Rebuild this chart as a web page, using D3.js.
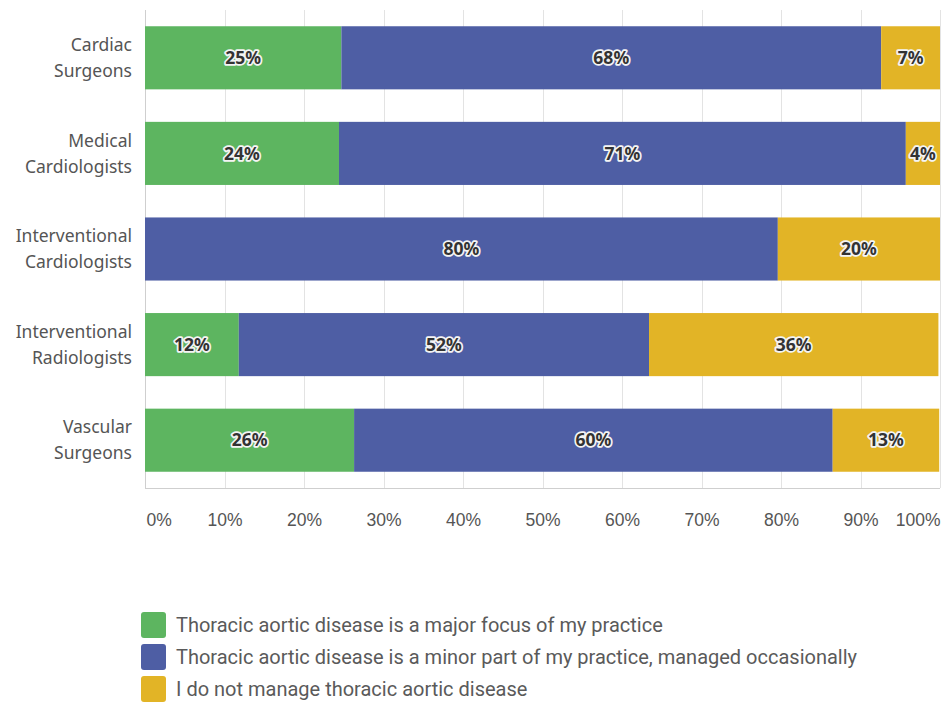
<!DOCTYPE html>
<meta charset="utf-8">
<style>
  body { margin: 0; background: white; }
  svg { background-color: white; font-family: "Noto Sans", sans-serif; }
  .grid line { stroke: #e3e3e3; shape-rendering: crispEdges; }
  .cat text { fill: #555; font-size: 17.5px; }
  .x-axis text { fill: #555; font-size: 17.5px; }
  .seg-label {
    font-size: 17.5px; font-weight: bold; fill: #333;
    stroke: #f4f4f4; stroke-width: 3.5px; paint-order: stroke; stroke-linejoin: round;
  }
  .legend text { fill: #5a5a5a; font-size: 20px; font-family: Roboto, sans-serif; }
</style>
<body>
<div id="chart"></div>
<script src="https://d3js.org/d3.v7.min.js"></script>
<script>
  // categories (two-line labels)
  var categories = [
    ["Cardiac", "Surgeons"],
    ["Medical", "Cardiologists"],
    ["Interventional", "Cardiologists"],
    ["Interventional", "Radiologists"],
    ["Vascular", "Surgeons"]
  ];
  // series values, in percent
  var majorFocus = [24.7, 24.4, 0, 11.8, 26.3];
  var minorPart  = [67.9, 71.3, 79.6, 51.6, 60.2];
  var notManage  = [7.4, 4.3, 20.4, 36.4, 13.4];
  // labels shown on segments
  var majorLabels = ["25%", "24%", "", "12%", "26%"];
  var minorLabels = ["68%", "71%", "80%", "52%", "60%"];
  var notLabels   = ["7%", "4%", "20%", "36%", "13%"];

  var seriesNames = [
    "Thoracic aortic disease is a major focus of my practice",
    "Thoracic aortic disease is a minor part of my practice, managed occasionally",
    "I do not manage thoracic aortic disease"
  ];
  var colors = ["#5db560", "#4e5ea4", "#e2b426"];
  var xTicks = [0, 10, 20, 30, 40, 50, 60, 70, 80, 90, 100];

  var W = 941, H = 703;
  var margin = {top: 10, left: 145, right: 1, bottom: 215};
  var width = W - margin.left - margin.right,
      height = H - margin.top - margin.bottom;

  var svg = d3.select("#chart").append("svg")
      .attr("width", W).attr("height", H);
  var g = svg.append("g").attr("transform", "translate(" + margin.left + "," + margin.top + ")");

  var x = d3.scaleLinear().domain([0, 100]).range([0, width]);
  var y = d3.scaleBand().domain(d3.range(categories.length)).range([0, height])
      .paddingInner(0.34).paddingOuter(0.17);

  // gridlines
  g.append("g").attr("class", "grid")
    .selectAll("line").data(xTicks).enter().append("line")
      .attr("x1", function(d){ return Math.round(x(d)) + 0.5; })
      .attr("x2", function(d){ return Math.round(x(d)) + 0.5; })
      .attr("y1", 0).attr("y2", height)
      .style("stroke", function(d){ return d === 0 ? "#cfcfcf" : "#e3e3e3"; });
  g.append("line")
    .attr("x1", 0).attr("x2", width).attr("y1", height + 0.5).attr("y2", height + 0.5)
    .attr("stroke", "#cfcfcf").style("shape-rendering", "crispEdges");

  // stacked rows
  var rows = categories.map(function(c, i){
    var vals = [majorFocus[i], minorPart[i], notManage[i]];
    var labs = [majorLabels[i], minorLabels[i], notLabels[i]];
    var x0 = 0;
    return vals.map(function(v, k){
      var s = {row: i, k: k, x0: x0, x1: x0 + v, label: labs[k]};
      x0 += v;
      return s;
    });
  });
  var segs = [].concat.apply([], rows).filter(function(d){ return d.x1 > d.x0; });

  g.selectAll("rect.seg").data(segs).enter().append("rect")
    .attr("class", "seg")
    .attr("x", function(d){ return x(d.x0); })
    .attr("width", function(d){ return x(d.x1) - x(d.x0); })
    .attr("y", function(d){ return y(d.row); })
    .attr("height", y.bandwidth())
    .attr("fill", function(d){ return colors[d.k]; });

  g.selectAll("text.seg-label").data(segs.filter(function(d){ return d.label; })).enter().append("text")
    .attr("class", "seg-label")
    .attr("x", function(d){ return (x(d.x0) + x(d.x1)) / 2; })
    .attr("y", function(d){ return y(d.row) + y.bandwidth() / 2; })
    .attr("text-anchor", "middle").attr("dy", "0.35em")
    .text(function(d){ return d.label; });

  // category labels
  var cat = g.append("g").attr("class", "cat");
  categories.forEach(function(c, i){
    var cy = y(i) + y.bandwidth() / 2;
    var t = cat.append("text").attr("text-anchor", "end");
    t.append("tspan").attr("x", -13).attr("y", cy - 13).attr("dy", "0.35em").text(c[0]);
    t.append("tspan").attr("x", -13).attr("y", cy + 13).attr("dy", "0.35em").text(c[1]);
  });

  // x axis labels
  var xa = g.append("g").attr("class", "x-axis")
    .attr("transform", "translate(0," + (height + 32) + ")")
    .call(d3.axisBottom(x).tickValues(xTicks).tickFormat(function(d){ return d + "%"; }).tickSize(0).tickPadding(0));
  xa.select(".domain").remove();
  xa.selectAll("text")
    .attr("dy", "0.35em")
    .attr("text-anchor", function(d){ return d === 0 ? "start" : d === 100 ? "end" : "middle"; })
    .attr("dx", function(d){ return d === 0 ? 1 : 0; });

  // legend
  var legend = svg.append("g").attr("class", "legend")
    .attr("transform", "translate(141,612)");
  var li = legend.selectAll("g").data(seriesNames).enter().append("g")
    .attr("transform", function(d, i){ return "translate(0," + (i * 32) + ")"; });
  li.append("rect").attr("width", 25).attr("height", 26).attr("rx", 3)
    .attr("fill", function(d, i){ return colors[i]; });
  li.append("text").attr("x", 35).attr("y", 13).attr("dy", "0.35em")
    .text(function(d){ return d; });
</script>
</body>
